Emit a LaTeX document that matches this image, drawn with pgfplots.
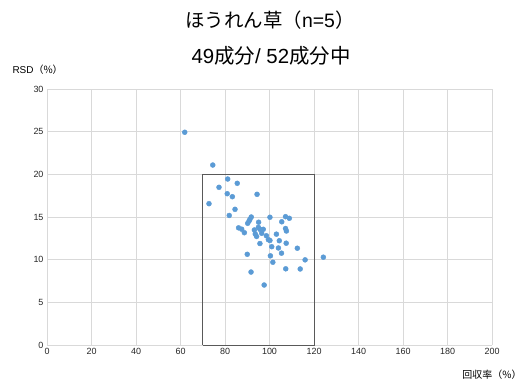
\documentclass[border=0pt]{standalone}
\usepackage{pgfplots}
\pgfplotsset{compat=1.18}
\usepackage{fontspec}
\setmainfont{Liberation Sans}
\newfontfamily\jp{Noto Sans CJK JP}
\definecolor{ptblue}{HTML}{5B9BD5}
\begin{document}
\begin{tikzpicture}[x=1bp,y=1bp]
\path[use as bounding box] (0,0) rectangle (528,384);
\node[font=\fontsize{19.5}{22}\selectfont] at (270,364) {{\jp ほうれん草（}n=5{\jp ）}};
\node[font=\fontsize{20.5}{22}\selectfont] at (271,328) {49{\jp 成分}/ 52{\jp 成分中}};
\node[anchor=west,font=\fontsize{10}{12}\selectfont] at (9,314) {RSD{\jp （\%）}};
\node[anchor=east,font=\jp\fontsize{10}{12}\selectfont] at (525,9) {回収率（\%）};
\begin{axis}[at={(47bp,39bp)}, anchor=south west, scale only axis,
  width=445bp, height=256bp,
  xmin=0, xmax=200, ymin=0, ymax=30,
  xtick={0,20,...,200}, ytick={0,5,...,30},
  grid=major, major grid style={draw=black!15, line width=0.7pt},
  axis line style={draw=none}, tick style={draw=none},
  ticklabel style={font=\fontsize{9}{11}\selectfont, text=black!85},
  /pgf/number format/assume math mode=true,
  clip=false]
\addplot[draw=black!65, line width=0.9pt, mark=none, sharp plot] coordinates {(70,0)(70,20)(120,20)(120,0)(70,0)};
\addplot[only marks, color=ptblue, mark=*, mark size=2.5pt, mark options={draw=ptblue, fill=ptblue}] table {
x y
61.9 24.93
74.5 21.09
81.2 19.45
85.5 18.95
77.3 18.48
81.0 17.73
83.3 17.38
94.4 17.66
72.8 16.56
84.5 15.90
81.9 15.18
91.8 15.00
91.2 14.73
90.8 14.53
90.2 14.26
100.2 14.97
95.1 14.39
107.2 15.04
108.9 14.85
105.5 14.44
86.1 13.73
87.5 13.57
88.7 13.16
93.2 13.48
95.0 13.79
95.7 13.56
97.2 13.56
93.6 13.01
94.2 12.72
96.5 13.09
103.1 12.99
107.2 13.65
107.6 13.36
95.7 11.89
99.5 12.34
100.2 12.25
104.4 12.22
107.5 11.93
101.0 11.52
104.0 11.37
112.5 11.34
90.0 10.63
100.4 10.45
105.4 10.76
116.0 9.98
124.2 10.29
101.5 9.70
91.7 8.55
107.3 8.93
113.8 8.91
97.6 7.03
98.6 12.8
};
\end{axis}
\end{tikzpicture}
\end{document}
